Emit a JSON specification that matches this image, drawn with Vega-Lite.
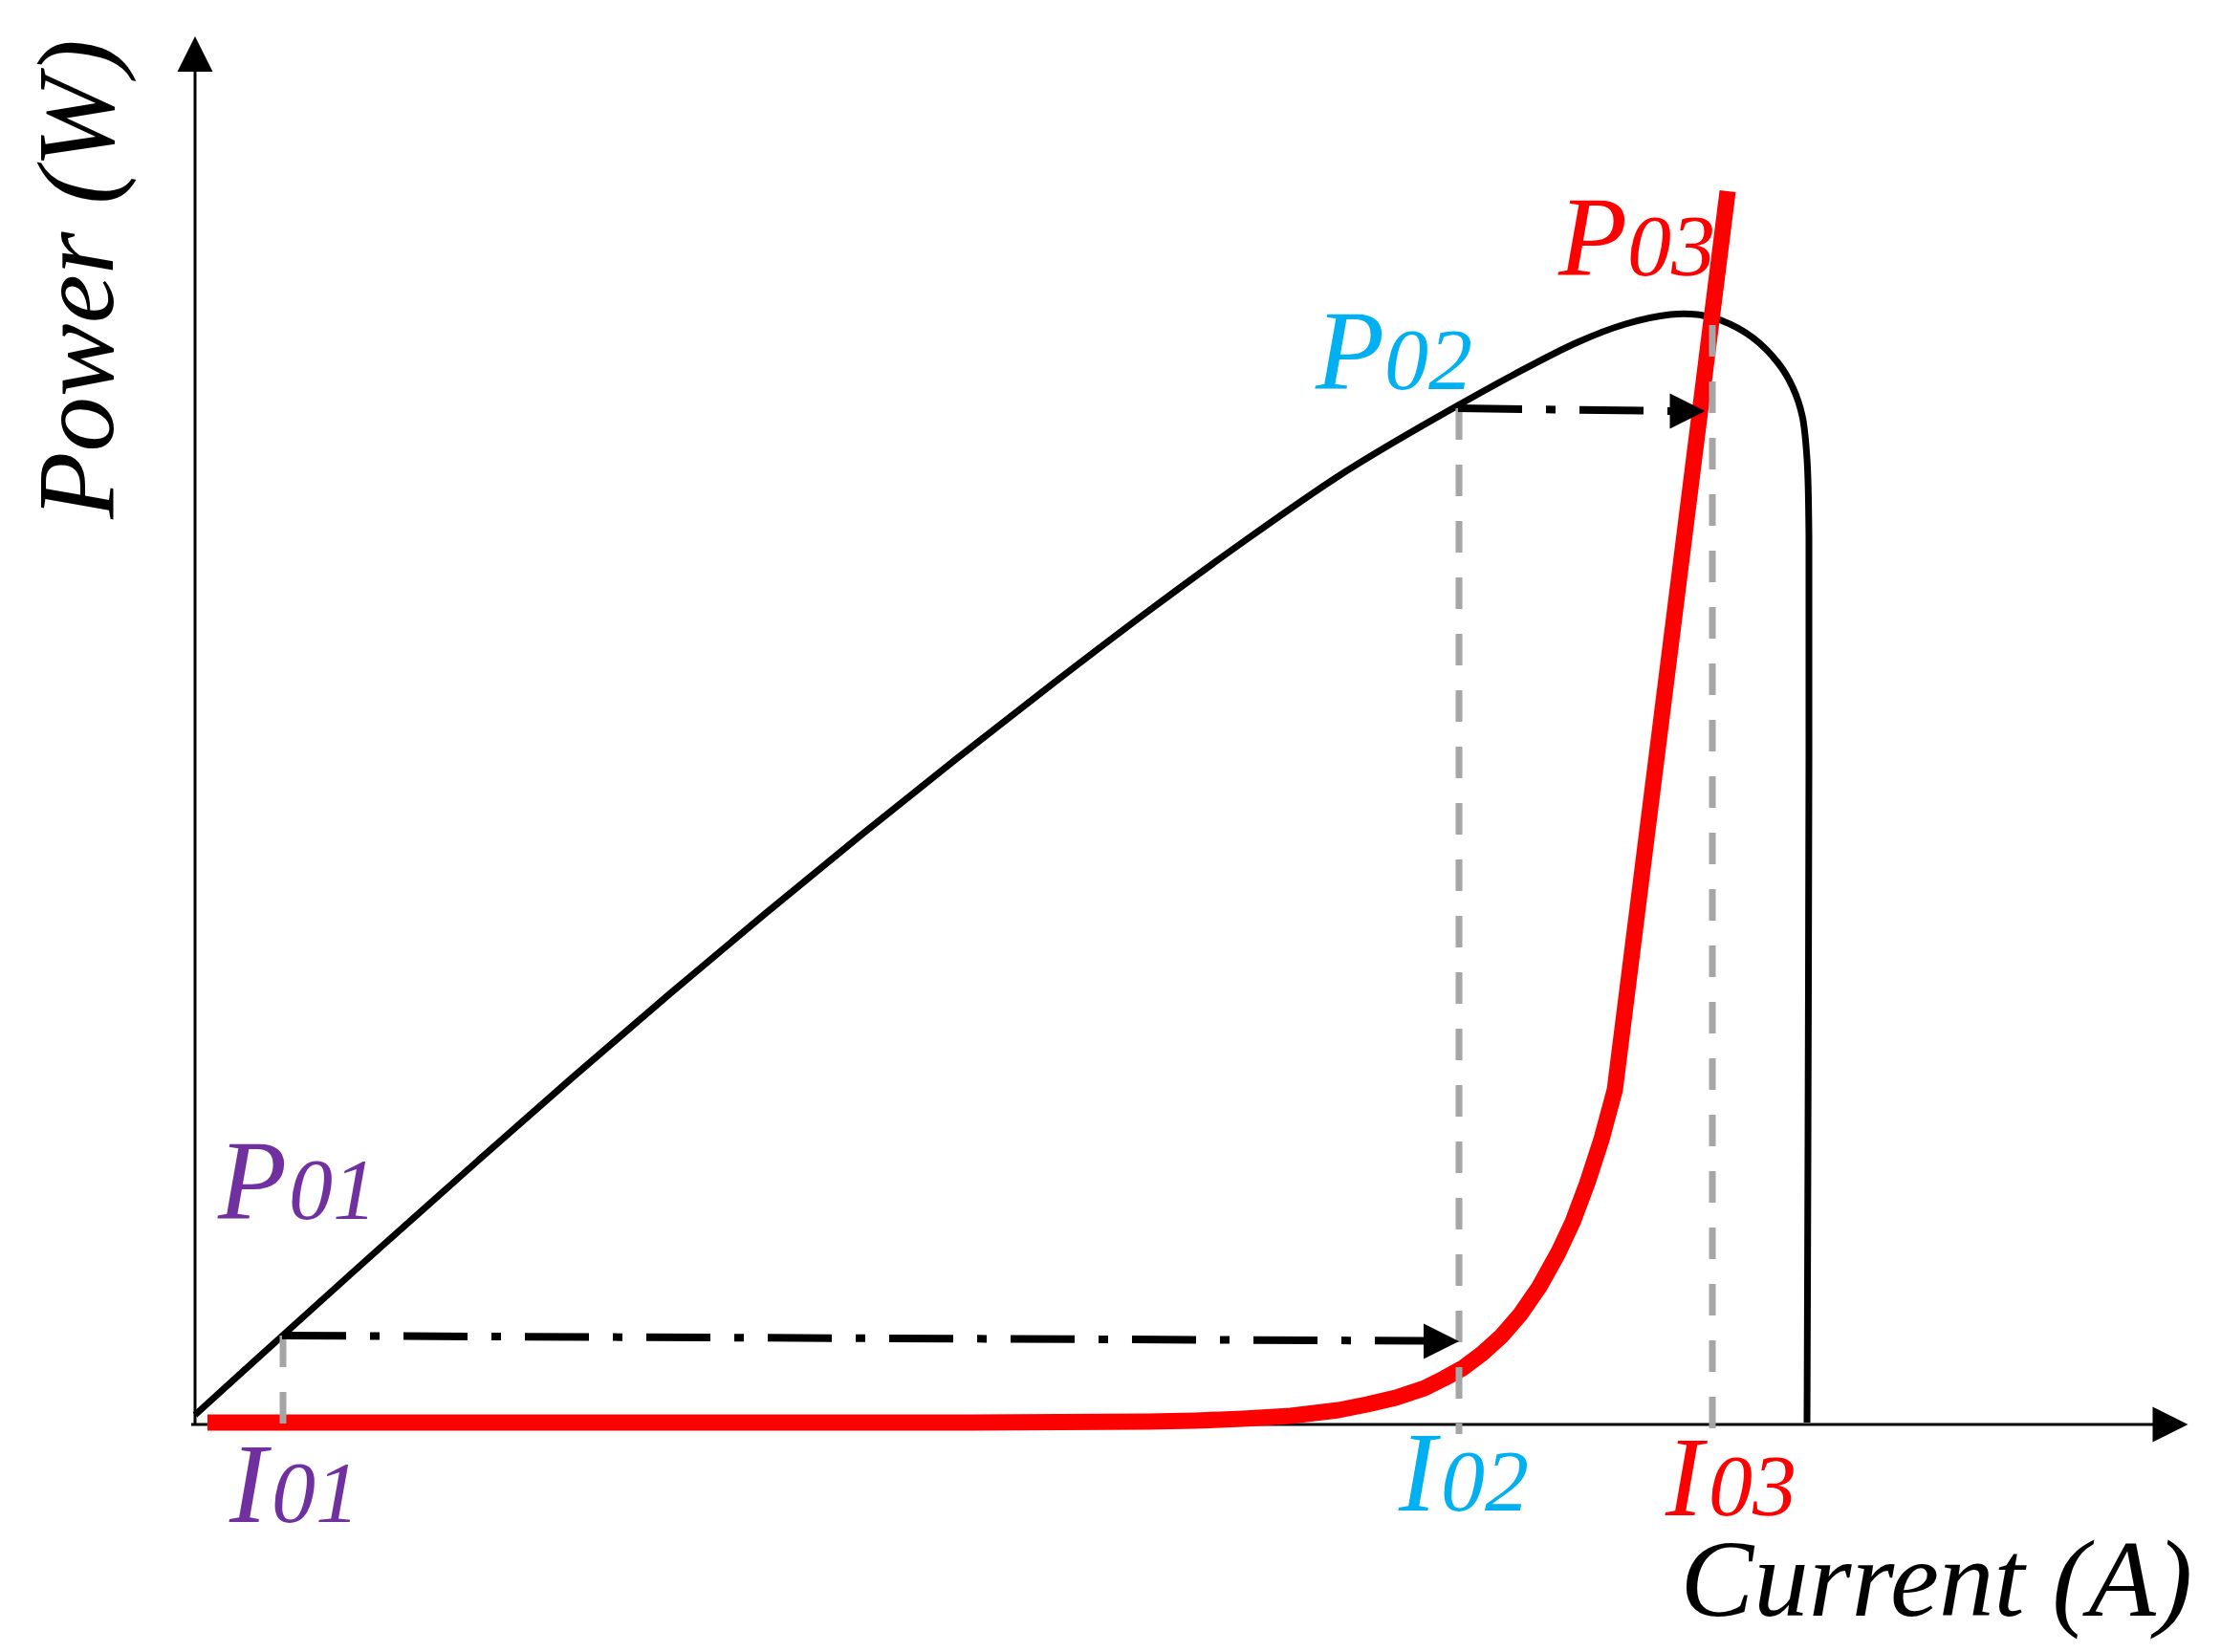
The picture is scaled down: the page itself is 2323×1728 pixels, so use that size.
{
  "$schema": "https://vega.github.io/schema/vega-lite/v6.json",
  "width": 2323,
  "height": 1728,
  "autosize": {"type": "fit", "contains": "padding"},
  "padding": 0,
  "background": "white",
  "config": {"view": {"stroke": null}},
  "datasets": {
    "black": [
      {"i": 0, "x": 0.00, "y": 1.0},
      {"i": 1, "x": 0.96, "y": 9.7},
      {"i": 2, "x": 1.96, "y": 18.7},
      {"i": 3, "x": 2.96, "y": 27.6},
      {"i": 4, "x": 3.96, "y": 36.4},
      {"i": 5, "x": 4.96, "y": 45.0},
      {"i": 6, "x": 5.96, "y": 53.4},
      {"i": 7, "x": 6.96, "y": 61.6},
      {"i": 8, "x": 7.96, "y": 69.6},
      {"i": 9, "x": 8.96, "y": 77.4},
      {"i": 10, "x": 9.96, "y": 85.0},
      {"i": 11, "x": 10.96, "y": 92.3},
      {"i": 12, "x": 11.96, "y": 99.2},
      {"i": 13, "x": 12.6, "y": 103.1},
      {"i": 14, "x": 13.21, "y": 106.6},
      {"i": 15, "x": 13.79, "y": 109.8},
      {"i": 16, "x": 14.46, "y": 113.2},
      {"i": 17, "x": 14.96, "y": 115.1},
      {"i": 18, "x": 15.43, "y": 116.1},
      {"i": 19, "x": 15.71, "y": 116.1},
      {"i": 20, "x": 15.96, "y": 115.5},
      {"i": 21, "x": 16.29, "y": 113.7},
      {"i": 22, "x": 16.56, "y": 111.0},
      {"i": 23, "x": 16.71, "y": 108.5},
      {"i": 24, "x": 16.81, "y": 105.5},
      {"i": 25, "x": 16.86, "y": 101.0},
      {"i": 26, "x": 16.88, "y": 93.0},
      {"i": 27, "x": 16.88, "y": 69.0},
      {"i": 28, "x": 16.87, "y": 29.0},
      {"i": 29, "x": 16.86, "y": 0.2}
    ],
    "red": [
      {"x": 0.13, "y": 0.2},
      {"x": 7.96, "y": 0.2},
      {"x": 9.96, "y": 0.3},
      {"x": 10.46, "y": 0.4},
      {"x": 10.96, "y": 0.6},
      {"x": 11.46, "y": 0.9},
      {"x": 11.96, "y": 1.5},
      {"x": 12.26, "y": 2.1},
      {"x": 12.56, "y": 2.8},
      {"x": 12.86, "y": 3.8},
      {"x": 13.06, "y": 4.8},
      {"x": 13.26, "y": 5.9},
      {"x": 13.46, "y": 7.4},
      {"x": 13.66, "y": 9.2},
      {"x": 13.86, "y": 11.5},
      {"x": 14.06, "y": 14.4},
      {"x": 14.26, "y": 18.0},
      {"x": 14.41, "y": 21.2},
      {"x": 14.56, "y": 25.2},
      {"x": 14.71, "y": 29.8},
      {"x": 14.85, "y": 35.0},
      {"x": 16.03, "y": 129.0}
    ],
    "axes": [
      {"x": 0, "x2": 0, "y": 0, "y2": 141.6},
      {"x": -0.04, "x2": 20.5, "y": 0, "y2": 0}
    ],
    "guides": [
      {"x": 0.92, "y": 9.3, "y2": -0.3},
      {"x": 13.22, "y": 106.3, "y2": -1.0},
      {"x": 15.87, "y": 115.0, "y2": -0.8}
    ],
    "moves": [
      {"x": 0.91, "x2": 12.86, "y": 9.3, "y2": 8.75},
      {"x": 13.21, "x2": 15.43, "y": 106.3, "y2": 106.0}
    ],
    "heads": [
      {"x": 0.0, "y": 143.35, "d": "up"},
      {"x": 20.66, "y": 0.0, "d": "right"},
      {"x": 13.035, "y": 8.7, "d": "right"},
      {"x": 15.61, "y": 106.0, "d": "right"}
    ],
    "letters": [
      {"x": 0.24, "y": 21.5, "t": "P", "g": "1"},
      {"x": 0.36, "y": -10.2, "t": "I", "g": "1"},
      {"x": 11.72, "y": 108.3, "t": "P", "g": "2"},
      {"x": 12.59, "y": -9.0, "t": "I", "g": "2"},
      {"x": 14.26, "y": 120.2, "t": "P", "g": "3"},
      {"x": 15.38, "y": -9.5, "t": "I", "g": "3"}
    ],
    "digits": [
      {"x": 0.98, "y": 21.5, "t": "01", "g": "1"},
      {"x": 0.80, "y": -10.2, "t": "01", "g": "1"},
      {"x": 12.44, "y": 108.3, "t": "02", "g": "2"},
      {"x": 13.03, "y": -9.0, "t": "02", "g": "2"},
      {"x": 14.98, "y": 120.2, "t": "03", "g": "3"},
      {"x": 15.83, "y": -9.5, "t": "03", "g": "3"}
    ],
    "xtitle": [{"x": 20.89, "y": -20.0, "t": "Current (A)"}],
    "ytitle": [{"x": -0.86, "y": 119.8, "t": "Power (W)"}]
  },
  "encoding": {
    "x": {"field": "x", "type": "quantitative", "axis": null, "scale": {"domain": [-2.04, 21.19], "nice": false, "zero": false}},
    "y": {"field": "y", "type": "quantitative", "axis": null, "scale": {"domain": [-23.8, 149.0], "nice": false, "zero": false}}
  },
  "layer": [
    {
      "data": {"name": "axes"},
      "mark": {"type": "rule", "color": "black", "strokeWidth": 3},
      "encoding": {"x2": {"field": "x2"}, "y2": {"field": "y2"}}
    },
    {
      "data": {"name": "black"},
      "mark": {"type": "line", "color": "black", "strokeWidth": 7, "interpolate": "catmull-rom"},
      "encoding": {"order": {"field": "i", "type": "quantitative"}}
    },
    {
      "data": {"name": "red"},
      "mark": {"type": "line", "color": "#FF0000", "strokeWidth": 17, "strokeCap": "butt", "strokeJoin": "round", "interpolate": "linear"},
      "encoding": {"order": {"field": "x", "type": "quantitative"}}
    },
    {
      "data": {"name": "guides"},
      "mark": {"type": "rule", "color": "#A6A6A6", "strokeWidth": 7, "strokeDash": [33, 26]},
      "encoding": {"y2": {"field": "y2"}}
    },
    {
      "data": {"name": "moves"},
      "mark": {"type": "rule", "color": "black", "strokeWidth": 8, "strokeDash": [67, 25, 10, 25]},
      "encoding": {"x2": {"field": "x2"}, "y2": {"field": "y2"}}
    },
    {
      "data": {"name": "heads"},
      "mark": {"type": "point", "filled": true, "color": "black", "opacity": 1, "size": 1369, "strokeWidth": 0},
      "encoding": {
        "shape": {"field": "d", "type": "nominal", "legend": null, "scale": {"domain": ["up", "right"], "range": ["M-1,1L0,-1L1,1Z", "M-1,-1L1,0L-1,1Z"]}}
      }
    },
    {
      "data": {"name": "letters"},
      "mark": {"type": "text", "font": "Liberation Serif", "fontStyle": "italic", "fontSize": 118, "align": "left", "baseline": "alphabetic"},
      "encoding": {
        "text": {"field": "t"},
        "color": {"field": "g", "type": "nominal", "legend": null, "scale": {"domain": ["1", "2", "3"], "range": ["#7030A0", "#00B0F0", "#FF0000"]}}
      }
    },
    {
      "data": {"name": "digits"},
      "mark": {"type": "text", "font": "Liberation Serif", "fontStyle": "italic", "fontSize": 92, "align": "left", "baseline": "alphabetic"},
      "encoding": {
        "text": {"field": "t"},
        "color": {"field": "g", "type": "nominal", "legend": null}
      }
    },
    {
      "data": {"name": "xtitle"},
      "mark": {"type": "text", "font": "Liberation Serif", "fontStyle": "italic", "fontSize": 115, "align": "right", "baseline": "alphabetic", "color": "black"},
      "encoding": {"text": {"field": "t"}}
    },
    {
      "data": {"name": "ytitle"},
      "mark": {"type": "text", "font": "Liberation Serif", "fontStyle": "italic", "fontSize": 115, "align": "center", "baseline": "alphabetic", "angle": 270, "color": "black"},
      "encoding": {"text": {"field": "t"}}
    }
  ]
}
